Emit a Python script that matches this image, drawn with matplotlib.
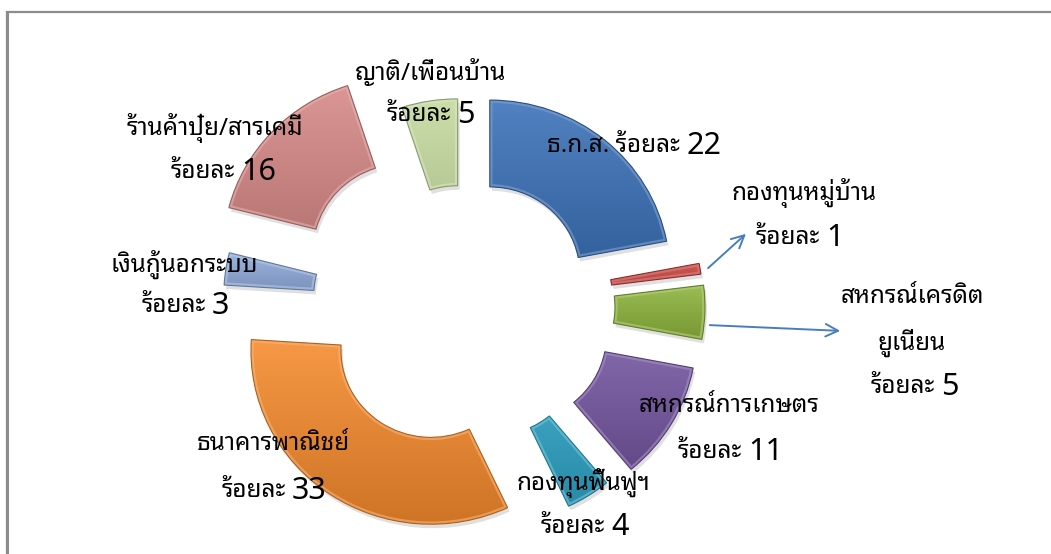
import matplotlib
matplotlib.use('Agg')
import matplotlib.pyplot as plt
import numpy as np
from matplotlib.patches import PathPatch
from matplotlib.colors import to_rgb
from matplotlib.transforms import Affine2D

plt.rcParams['font.family'] = ['Noto Sans Thai Looped', 'DejaVu Sans']

# แหล่งเงินกู้ (ร้อยละ)
labels = ['ธ.ก.ส.', 'กองทุนหมู่บ้าน', 'สหกรณ์เครดิต\nยูเนี่ยน', 'สหกรณ์การเกษตร',
          'กองทุนฟื้นฟูฯ', 'ธนาคารพาณิชย์', 'เงินกู้นอกระบบ', 'ร้านค้าปุ๋ย/สารเคมี',
          'ญาติ/เพื่อนบ้าน']
values = [22, 1, 5, 11, 4, 33, 3, 16, 5]

colors = ['#3A70B8', '#C8423E', '#8DB43C', '#7657A2', '#2FA6C8',
          '#F58A2C', '#8EAADA', '#D68886', '#C4DA9E']
explode = [42, 60, 62, 62, 54, 57, 60, 82, 34]   # px, like Excel point explosion

W, H = 1051, 554
CX, CY = 463, 300          # doughnut centre in image pixels
R, HOLE = 180, 90
SQUASH, DROP = 0.965, 5     # slight 3-D tilt of the original rendering


def iy(y):
    # image pixel row -> data y
    return H - y


def mix(c, other, t):
    c = np.array(to_rgb(c))
    return tuple(c + (np.array(other) - c) * t)


fig = plt.figure(figsize=(W / 100, H / 100), dpi=100)
ax = fig.add_axes([0, 0, 1, 1])

wedges, _ = ax.pie(values, explode=explode, radius=R, center=(CX, iy(CY)),
                   startangle=90, counterclock=False, colors=colors,
                   wedgeprops=dict(width=HOLE, linewidth=0))

tilt = Affine2D().translate(-CX, -iy(CY)).scale(1, SQUASH).translate(CX, iy(CY) - DROP)

for w, c in zip(wedges, colors):
    w.set_transform(tilt + ax.transData)
    path = w.get_path().transformed(w.get_patch_transform() + tilt)
    v = path.vertices
    x0, x1, y0, y1 = v[:, 0].min(), v[:, 0].max(), v[:, 1].min(), v[:, 1].max()

    # soft shadow under the shape
    sh = PathPatch(path.transformed(Affine2D().translate(2, -4)), fc='black',
                   ec='none', alpha=0.12, zorder=1)
    ax.add_patch(sh)

    # vertical gradient, lighter on top
    t = np.linspace(0, 1, 64)[:, None]
    top, bot = np.array(mix(c, (1, 1, 1), 0.12)), np.array(mix(c, (0, 0, 0), 0.16))
    grad = (top[None, None, :] * (1 - t[..., None]) + bot[None, None, :] * t[..., None])
    grad = np.repeat(grad, 2, axis=1)
    im = ax.imshow(grad, extent=(x0, x1, y0, y1), origin='upper', aspect='auto',
                   interpolation='bilinear', zorder=2)
    im.set_clip_path(w)
    w.set_facecolor('none')
    w.set_zorder(4)

    # bevel highlight on the rim
    hl = PathPatch(path, fc='none', ec=mix(c, (1, 1, 1), 0.35), lw=4, alpha=0.6, zorder=3)
    ax.add_patch(hl)
    hl.set_clip_path(w)
    edge = PathPatch(path, fc='none', ec=mix(c, (0, 0, 0), 0.3), lw=0.8, zorder=4)
    ax.add_patch(edge)

# label text: name lines, then "ร้อยละ" + value (value drawn a bit larger)
name_pos = [None, (804, 193), (912, 297), (729, 406), (583, 483), (273, 444),
            (184, 264), (215, 128), (431, 72)]
value_pos = [(686, 146), (826, 238), (941, 387), (748, 452), (611, 527),
             (292, 491), (212, 306), (241, 172), (457, 115)]
prefix = ['ธ.ก.ส. ร้อยละ', 'ร้อยละ', 'ร้อยละ', 'ร้อยละ', 'ร้อยละ', 'ร้อยละ',
          'ร้อยละ', 'ร้อยละ', 'ร้อยละ']
line_gap = 46
text_kw = dict(fontsize=17.5, fontweight='light', color='black', zorder=6)

for i, v in enumerate(values):
    if name_pos[i] is not None:
        nx, ny = name_pos[i]
        for k, line in enumerate(labels[i].split('\n')):
            ax.text(nx, iy(ny + k * line_gap), line, ha='center', va='center', **text_kw)
    vx, vy = value_pos[i]
    ax.text(vx - 6, iy(vy), prefix[i], ha='right', va='center', **text_kw)
    ax.text(vx, iy(vy), str(v), ha='left', va='center', fontsize=22, color='black',
            zorder=6)

# callout arrows for the two thin slices
arrow_kw = dict(arrowstyle='->,head_length=0.9,head_width=0.45', color='#4A7EBB', lw=1.4)
ax.annotate('', xy=(748, iy(232)), xytext=(706, iy(270)), arrowprops=arrow_kw, zorder=5)
ax.annotate('', xy=(843, iy(331)), xytext=(707, iy(325)), arrowprops=arrow_kw, zorder=5)

# chart area border (only top and left edges fall inside the picture)
ax.plot([7, 7, W + 5], [iy(H + 5), iy(11.5), iy(11.5)], color='#8C8C8C', lw=1.6,
        solid_joinstyle='miter', zorder=7)
ax.plot([7, 7], [iy(H + 5), iy(11.5)], color='#8C8C8C', lw=2.2, zorder=7)

ax.set_xlim(0, W)
ax.set_ylim(0, H)
ax.set_aspect('equal')
ax.axis('off')

fig.savefig('out.png', dpi=100, facecolor='white')
